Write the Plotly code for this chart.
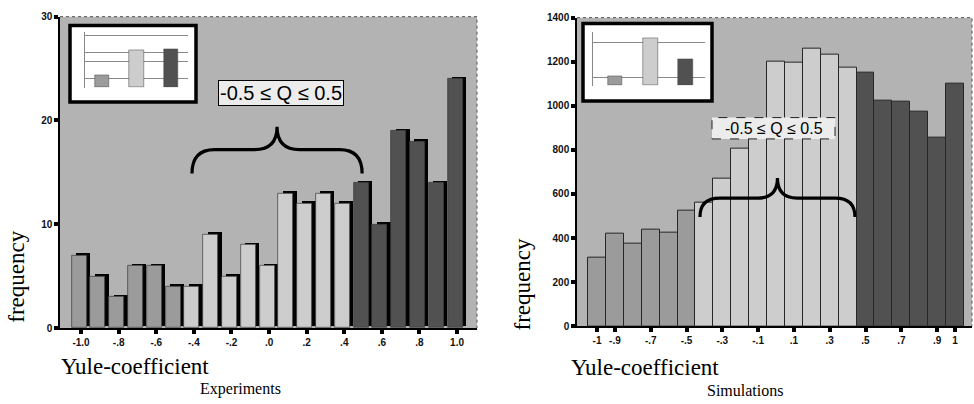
import plotly.graph_objects as go

W, H = 974, 404

# ---------------- data ----------------
q_values = [-1.0, -0.9, -0.8, -0.7, -0.6, -0.5, -0.4, -0.3, -0.2, -0.1, 0.0,
            0.1, 0.2, 0.3, 0.4, 0.5, 0.6, 0.7, 0.8, 0.9, 1.0]
exp_freq = [7, 5, 3, 6, 6, 4, 4, 9, 5, 8, 6, 13, 12, 13, 12, 14, 10, 19, 18, 14, 24]
sim_freq = [310, 420, 375, 440, 425, 525, 560, 670, 805, 900, 1200, 1195, 1260,
            1230, 1175, 1150, 1025, 1020, 975, 855, 1100]

exp_tickvals = [-1.0, -0.8, -0.6, -0.4, -0.2, 0.0, 0.2, 0.4, 0.6, 0.8, 1.0]
exp_ticktext = ["-1.0", "-.8", "-.6", "-.4", "-.2", ".0", ".2", ".4", ".6", ".8", "1.0"]
sim_tickvals = [-1.0, -0.9, -0.7, -0.5, -0.3, -0.1, 0.1, 0.3, 0.5, 0.7, 0.9, 1.0]
sim_ticktext = ["-1", "-.9", "-.7", "-.5", "-.3", "-.1", ".1", ".3", ".5", ".7", ".9", "1"]
exp_yticks = [0, 10, 20, 30]
sim_yticks = [0, 200, 400, 600, 800, 1000, 1200, 1400]

inset_cats = [1, 2, 3]
exp_inset = [13, 38, 39]
sim_inset = [10, 49, 27]
exp_inset_lines = [9, 27, 36, 54]
sim_inset_lines = [8, 44]

label_text = "-0.5 \u2264 Q \u2264 0.5"

# ---------------- styling ----------------
C_MED, C_LIGHT, C_DARK = "#9b9b9b", "#cdcdcd", "#515151"
BG = "#b3b3b3"


def colour(q):
    if q < -0.45:
        return C_MED
    if q < 0.45:
        return C_LIGHT
    return C_DARK


def px(x):
    return x / W


def py(y):
    return 1 - y / H


# pixel geometry of the panels
L_X0, L_X1, L_Y0, L_Y1 = 60, 477, 11, 332
R_X0, R_X1, R_Y0, R_Y1 = 577, 972, 12, 330

fig = go.Figure()

# experiments: shadow + body
fig.add_trace(go.Bar(x=q_values, y=exp_freq, base=0.25, width=0.075, offset=-0.027,
                     marker=dict(color="black", line=dict(width=0)),
                     xaxis="x", yaxis="y", showlegend=False, hoverinfo="skip"))
fig.add_trace(go.Bar(x=q_values, y=exp_freq, width=0.079, offset=-0.05,
                     marker=dict(color=[colour(q) for q in q_values],
                                 line=dict(width=0.7, color="#3a3a3a")),
                     xaxis="x", yaxis="y", showlegend=False))
# simulations
fig.add_trace(go.Bar(x=q_values, y=sim_freq, width=0.1, offset=-0.05,
                     marker=dict(color=[colour(q) for q in q_values],
                                 line=dict(width=1, color="#262626")),
                     xaxis="x2", yaxis="y2", showlegend=False))
# insets
fig.add_trace(go.Bar(x=inset_cats, y=exp_inset, width=0.42,
                     marker=dict(color=[C_MED, C_LIGHT, C_DARK], line=dict(width=0.5, color="#444")),
                     xaxis="x3", yaxis="y3", showlegend=False))
fig.add_trace(go.Bar(x=inset_cats, y=sim_inset, width=0.42,
                     marker=dict(color=[C_MED, C_LIGHT, C_DARK], line=dict(width=0.5, color="#444")),
                     xaxis="x4", yaxis="y4", showlegend=False))

tickfont = dict(family="Arial, sans-serif", size=10, color="#111", weight="bold")

axis_common = dict(showline=True, linecolor="black", linewidth=1.5, ticks="outside",
                   ticklen=4, tickwidth=4, tickcolor="black", showgrid=False,
                   zeroline=False, tickfont=tickfont, fixedrange=True)

fig.update_layout(
    width=W, height=H, autosize=False,
    margin=dict(l=0, r=0, t=0, b=0),
    paper_bgcolor="white", plot_bgcolor="rgba(0,0,0,0)",
    barmode="overlay", bargap=0,
    xaxis=dict(domain=[px(L_X0), px(L_X1)], range=[-1.112, 1.106], anchor="y",
               tickvals=exp_tickvals, ticktext=exp_ticktext, **axis_common),
    yaxis=dict(domain=[py(L_Y1), py(L_Y0)], range=[0, 30], anchor="x",
               tickvals=exp_yticks, **axis_common),
    xaxis2=dict(domain=[px(R_X0), px(R_X1)], range=[-1.112, 1.095], anchor="y2",
                tickvals=sim_tickvals, ticktext=sim_ticktext, **axis_common),
    yaxis2=dict(domain=[py(R_Y1), py(R_Y0)], range=[0, 1400], anchor="x2",
                tickvals=sim_yticks, **axis_common),
    xaxis3=dict(domain=[px(85), px(188)], range=[0.5, 3.5], anchor="y3",
                showline=False, showticklabels=False, showgrid=False, zeroline=False, fixedrange=True),
    yaxis3=dict(domain=[py(84), py(27)], range=[0, 57], anchor="x3",
                tickvals=exp_inset_lines, showticklabels=False, showgrid=True,
                gridcolor="#8a8a8a", gridwidth=1, showline=True, linecolor="#888",
                linewidth=1, zeroline=False, fixedrange=True),
    xaxis4=dict(domain=[px(593), px(705)], range=[0.37, 3.56], anchor="y4",
                showline=False, showticklabels=False, showgrid=False, zeroline=False, fixedrange=True),
    yaxis4=dict(domain=[py(82), py(27)], range=[0, 55], anchor="x4",
                tickvals=sim_inset_lines, showticklabels=False, showgrid=True,
                gridcolor="#8a8a8a", gridwidth=1, showline=True, linecolor="#888",
                linewidth=1, zeroline=False, fixedrange=True),
)

shapes = []
# gray plot backgrounds
for (x0, x1, y0, y1) in [(L_X0, L_X1, L_Y0, L_Y1), (R_X0, R_X1, R_Y0, R_Y1)]:
    shapes.append(dict(type="rect", xref="paper", yref="paper", layer="below",
                       x0=px(x0), x1=px(x1), y0=py(y1), y1=py(y0),
                       fillcolor=BG, line=dict(width=0)))
# inset white boxes
for (x0, x1, y0, y1) in [(70, 196, 20, 99), (583, 712, 18, 98)]:
    shapes.append(dict(type="rect", xref="paper", yref="paper", layer="below",
                       x0=px(x0), x1=px(x1), y0=py(y1), y1=py(y0),
                       fillcolor="white", line=dict(width=0)))
    shapes.append(dict(type="rect", xref="paper", yref="paper", layer="above",
                       x0=px(x0), x1=px(x1), y0=py(y1), y1=py(y0),
                       fillcolor="rgba(0,0,0,0)", line=dict(width=3.5, color="black")))
# dashed frame top/right
for (x0, x1, y0, y1) in [(L_X0, L_X1, L_Y0, L_Y1), (R_X0, R_X1, R_Y0, R_Y1)]:
    shapes.append(dict(type="path", xref="paper", yref="paper", layer="above",
                       path=f"M {px(x0)},{py(y0)} L {px(x1)},{py(y0)} L {px(x1)},{py(y1)}",
                       line=dict(width=1, color="#555", dash="dot")))


def brace(xref, yref, x0, x1, y_end, y_h, y_tip, dx):
    xm = (x0 + x1) / 2
    p = (f"M {x0},{y_end} Q {x0},{y_h} {x0 + dx},{y_h} L {xm - dx},{y_h} "
         f"Q {xm},{y_h} {xm},{y_tip} Q {xm},{y_h} {xm + dx},{y_h} "
         f"L {x1 - dx},{y_h} Q {x1},{y_h} {x1},{y_end}")
    return dict(type="path", xref=xref, yref=yref, path=p, layer="above",
                line=dict(width=3.2, color="black"))


shapes.append(brace("x", "y", -0.41, 0.495, 14.9, 17.2, 19.4, 0.12))
shapes.append(brace("x2", "y2", -0.425, 0.441, 495, 581, 672, 0.11))
# dashed label box (simulations)
shapes.append(dict(type="rect", xref="paper", yref="paper", layer="above",
                   x0=px(712), x1=px(835), y0=py(137), y1=py(115),
                   fillcolor="#ececec", line=dict(width=1, color="#222", dash="dash")))

fig.update_layout(shapes=shapes)

serif = "Liberation Serif, Times New Roman, serif"


def note(x, y, text, size, family=serif, **kw):
    d = dict(x=px(x), y=py(y), text=text, showarrow=False, xref="paper", yref="paper",
             xanchor="center", yanchor="middle",
             font=dict(family=family, size=size, color="black"))
    d.update(kw)
    return d


ann = [
    note(281, 89.5, label_text, 20, family="Arial, sans-serif",
         bgcolor="#ececec", bordercolor="black", borderwidth=1, borderpad=1),
    note(773.5, 126, label_text, 16, family="Arial, sans-serif"),
    note(17, 279, "frequency", 23, textangle=-90),
    note(522, 287, "frequency", 23, textangle=-90),
    note(135, 372, "Yule-coefficient", 23),
    note(645, 373, "Yule-coefficient", 23),
    note(240, 395, "Experiments", 16),
    note(745, 396, "Simulations", 16),
]
fig.update_layout(annotations=ann)

fig.write_html("out.html")
